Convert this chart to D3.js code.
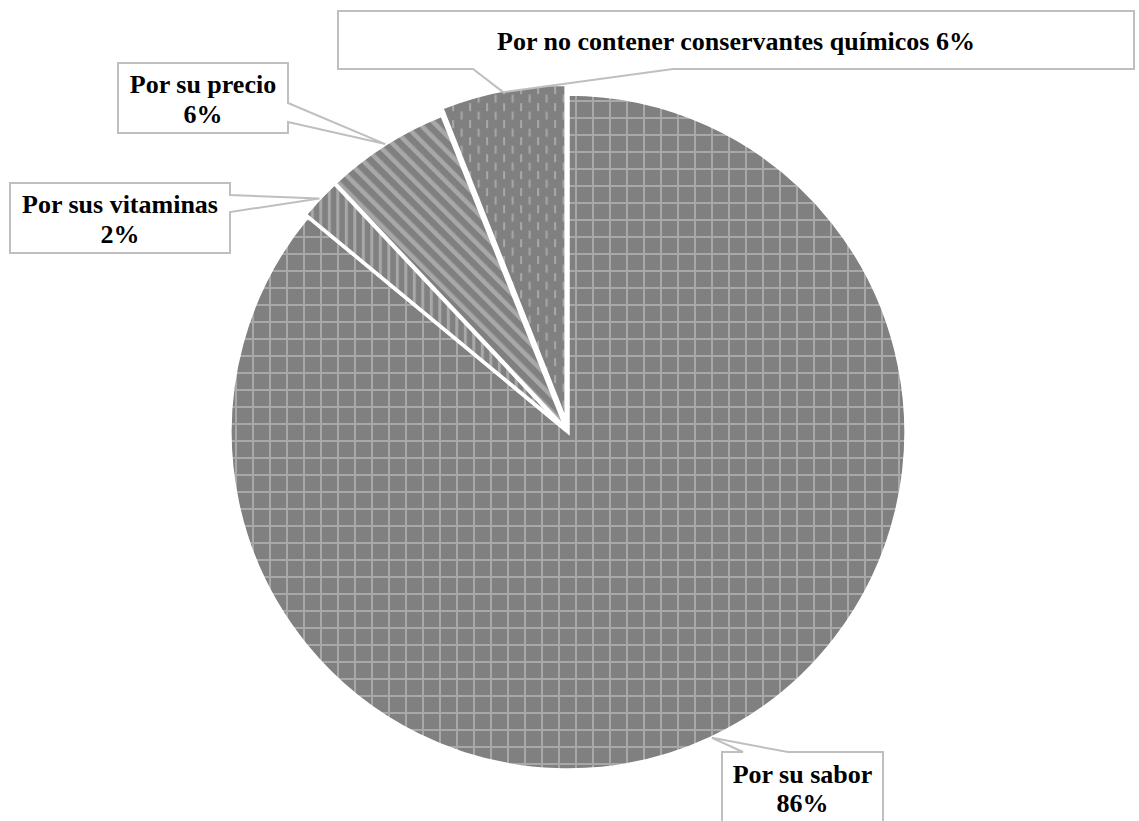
<!DOCTYPE html>
<html>
<head>
<meta charset="utf-8">
<script src="https://cdn.jsdelivr.net/npm/d3@7"></script>
<style>
  html, body { margin: 0; padding: 0; background: #ffffff; }
  svg { display: block; }
  .lbl { font-family: "Liberation Serif", "Times New Roman", serif; font-weight: bold; font-size: 26px; fill: #000; }
</style>
</head>
<body>
<svg id="chart" width="1139" height="821"></svg>
<script>
// Reasons for choosing the product (percent of answers)
const categories = ["Por su sabor", "Por sus vitaminas", "Por su precio", "Por no contener conservantes químicos"];
const values = [86, 2, 6, 6];
const valueLabels = ["86%", "2%", "6%", "6%"];

const W = 1139, H = 821;
const cx = 568, cy = 432, R = 338;

const svg = d3.select("#chart");
const defs = svg.append("defs");

const base = "#808080", light = "#a8a8a8";

// Large grid fill
const pGrid = defs.append("pattern").attr("id", "pat-grid")
  .attr("patternUnits", "userSpaceOnUse").attr("width", 17).attr("height", 17)
  .attr("x", 7).attr("y", 8);
pGrid.append("rect").attr("width", 17).attr("height", 17).attr("fill", base);
pGrid.append("rect").attr("x", 0).attr("y", 0).attr("width", 17).attr("height", 2).attr("fill", light);
pGrid.append("rect").attr("x", 0).attr("y", 0).attr("width", 2).attr("height", 17).attr("fill", light);

// Vertical stripes
const pVert = defs.append("pattern").attr("id", "pat-vert")
  .attr("patternUnits", "userSpaceOnUse").attr("width", 8.5).attr("height", 17);
pVert.append("rect").attr("width", 8.5).attr("height", 17).attr("fill", base);
pVert.append("rect").attr("x", 0).attr("width", 3).attr("height", 17).attr("fill", light);

// Wide downward diagonal stripes
const pDiag = defs.append("pattern").attr("id", "pat-diag")
  .attr("patternUnits", "userSpaceOnUse").attr("width", 11).attr("height", 11)
  .attr("patternTransform", "rotate(-45)");
pDiag.append("rect").attr("width", 11).attr("height", 11).attr("fill", base);
pDiag.append("rect").attr("x", 0).attr("width", 4.5).attr("height", 11).attr("fill", light);

// Dashed vertical lines
const pDash = defs.append("pattern").attr("id", "pat-dash")
  .attr("patternUnits", "userSpaceOnUse").attr("width", 17).attr("height", 17)
  .attr("x", 2).attr("y", 4);
pDash.append("rect").attr("width", 17).attr("height", 17).attr("fill", base);
pDash.append("rect").attr("x", 3).attr("y", 0).attr("width", 2).attr("height", 8).attr("fill", light);
pDash.append("rect").attr("x", 11.5).attr("y", 8.5).attr("width", 2).attr("height", 8).attr("fill", light);

const fills = ["url(#pat-grid)", "url(#pat-vert)", "url(#pat-diag)", "url(#pat-dash)"];
const explode = [0, 3, 3, 10];

const pie = d3.pie().sort(null).value(d => d).startAngle(0).endAngle(2 * Math.PI);
const arcs = pie(values);
const arc = d3.arc().innerRadius(0).outerRadius(R);

const g = svg.append("g").attr("transform", `translate(${cx},${cy})`);

g.selectAll("path.slice").data(arcs).join("path")
  .attr("class", "slice")
  .attr("d", arc)
  .attr("fill", (d, i) => fills[i])
  .attr("stroke", "#ffffff")
  .attr("stroke-width", 3.5)
  .attr("stroke-linejoin", "miter")
  .attr("transform", (d, i) => {
    const a = (d.startAngle + d.endAngle) / 2;
    return `translate(${explode[i] * Math.sin(a)},${-explode[i] * Math.cos(a)})`;
  });

// Leader tip at the outer edge of each slice, mid-angle
function tip(i, extra) {
  const d = arcs[i];
  const a = (d.startAngle + d.endAngle) / 2;
  const rr = R + explode[i] + (extra || 0);
  return [cx + rr * Math.sin(a), cy - rr * Math.cos(a)];
}

// Callout boxes: rectangle, side/edge where the pointer leaves, text lines
const boxes = [
  { i: 0, x: 722, y: 752, w: 161, h: 90, side: "top", a: 743, b: 788, tipExtra: 0,
    lines: [[categories[0], 783], [valueLabels[0], 812]] },
  { i: 1, x: 10, y: 183, w: 220, h: 70, side: "right", a: 195, b: 212, tipExtra: 0,
    lines: [[categories[1], 213], [valueLabels[1], 243]] },
  { i: 2, x: 118, y: 63, w: 170, h: 70, side: "right", a: 103, b: 122, tipExtra: 0,
    lines: [[categories[2], 93], [valueLabels[2], 123]] },
  { i: 3, x: 338, y: 11, w: 796, h: 58, side: "bottom", a: 473, b: 673, tipExtra: -2,
    lines: [[categories[3] + " " + valueLabels[3], 50]] }
];

const callouts = svg.append("g");
boxes.forEach(bx => {
  const [tx, ty] = tip(bx.i, bx.tipExtra);
  const x0 = bx.x, y0 = bx.y, x1 = bx.x + bx.w, y1 = bx.y + bx.h;
  let pts;
  if (bx.side === "top") {
    pts = [[x0, y0], [bx.a, y0], [tx, ty], [bx.b, y0], [x1, y0], [x1, y1], [x0, y1]];
  } else if (bx.side === "right") {
    pts = [[x0, y0], [x1, y0], [x1, bx.a], [tx, ty], [x1, bx.b], [x1, y1], [x0, y1]];
  } else {
    pts = [[x0, y0], [x1, y0], [x1, y1], [bx.b, y1], [tx, ty], [bx.a, y1], [x0, y1]];
  }
  callouts.append("path")
    .attr("d", d3.line()(pts) + "Z")
    .attr("fill", "#ffffff")
    .attr("stroke", "#bfbfbf")
    .attr("stroke-width", 2)
    .attr("stroke-linejoin", "miter");
  const mx = x0 + bx.w / 2;
  bx.lines.forEach(([t, by]) => {
    callouts.append("text").attr("class", "lbl")
      .attr("x", mx).attr("y", by).attr("text-anchor", "middle").text(t);
  });
});
</script>
</body>
</html>
